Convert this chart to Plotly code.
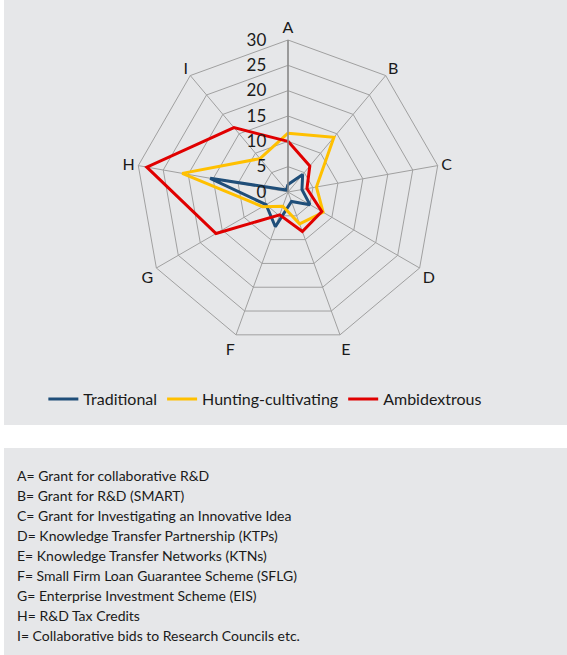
import plotly.graph_objects as go

# Support schemes (axes of the radar)
categories = ["A", "B", "C", "D", "E", "F", "G", "H", "I"]

# Scores per firm type
traditional = [1.5, 4.5, 2.8, 5.0, 2.0, 7.3, 5.0, 15.6, 0.5]
hunting_cultivating = [11.6, 14.1, 5.7, 8.0, 6.7, 3.0, 5.8, 21.2, 8.6]
ambidextrous = [10.0, 6.7, 3.8, 7.7, 8.3, 4.8, 16.4, 28.3, 16.6]

series_names = ["Traditional", "Hunting-cultivating", "Ambidextrous"]
series_colors = ["#1f4e79", "#ffc000", "#e00000"]

radial_ticks = [0, 5, 10, 15, 20, 25, 30]

key_lines = [
    "A= Grant for collaborative R&D",
    "B= Grant for R&D (SMART)",
    "C= Grant for Investigating an Innovative Idea",
    "D= Knowledge Transfer Partnership (KTPs)",
    "E= Knowledge Transfer Networks (KTNs)",
    "F= Small Firm Loan Guarantee Scheme (SFLG)",
    "G= Enterprise Investment Scheme (EIS)",
    "H= R&D Tax Credits",
    "I= Collaborative bids to Research Councils etc.",
]

W, H = 567, 655
FONT = "Lato, 'Open Sans', sans-serif"
PANEL = "#e6e7e9"
GRID = "#a0a0a0"

# Radial labels carry an invisible tail so they sit a little left of the axis
pad = "<span style='color:rgba(0,0,0,0)'>X.</span>"
radial_text = [f"{v}{pad}" for v in radial_ticks]

fig = go.Figure()
for name, vals, col in zip(series_names,
                           [traditional, hunting_cultivating, ambidextrous],
                           series_colors):
    fig.add_trace(go.Scatterpolar(
        r=vals + vals[:1],
        theta=categories + categories[:1],
        mode="lines",
        name=name,
        line=dict(color=col, width=3),
    ))

# Polar area placed in pixels: centre (288, 192), radius 152
cx, cy, rad = 288, 192, 152
fig.update_layout(
    width=W, height=H,
    margin=dict(l=0, r=0, t=0, b=0),
    paper_bgcolor="white",
    plot_bgcolor="white",
    font=dict(family=FONT, size=16, color="#1a1a1a"),
    polar=dict(
        domain=dict(x=[(cx - rad) / W, (cx + rad) / W],
                    y=[(H - cy - rad) / H, (H - cy + rad) / H]),
        bgcolor="rgba(0,0,0,0)",
        gridshape="linear",
        angularaxis=dict(
            categoryorder="array", categoryarray=categories,
            rotation=90, direction="clockwise",
            showline=True, linecolor=GRID, linewidth=1,
            gridcolor=GRID, gridwidth=1,
            ticks="", tickfont=dict(size=16, color="#1a1a1a"),
        ),
        radialaxis=dict(
            range=[0, 30], tickvals=radial_ticks, ticktext=radial_text,
            angle=90, tickangle=90, side="counterclockwise",
            showline=True, linecolor="#8c8c8c", linewidth=1.5,
            gridcolor=GRID, gridwidth=1,
            ticks="", tickfont=dict(size=17, color="#1a1a1a"),
        ),
    ),
    showlegend=True,
    legend=dict(
        orientation="h", x=0.468, xanchor="center", y=(H - 399) / H, yanchor="middle",
        bgcolor="rgba(0,0,0,0)", font=dict(size=16, color="#1a1a1a"),
        itemwidth=30, tracegroupgap=0,
    ),
)

# Grey panels behind the chart and the key
fig.add_shape(type="rect", xref="paper", yref="paper",
              x0=4 / W, x1=1.0, y0=(H - 425) / H, y1=1.0,
              fillcolor=PANEL, line_width=0, layer="below")
fig.add_shape(type="rect", xref="paper", yref="paper",
              x0=4 / W, x1=1.0, y0=0.0, y1=(H - 448) / H,
              fillcolor=PANEL, line_width=0, layer="below")

for i, txt in enumerate(key_lines):
    fig.add_annotation(
        text=txt, xref="paper", yref="paper",
        x=15 / W, y=(H - (475 + 20.1 * i)) / H,
        xanchor="left", yanchor="middle", showarrow=False,
        font=dict(size=14, color="#1a1a1a"),
    )

fig.write_html("out.html")
